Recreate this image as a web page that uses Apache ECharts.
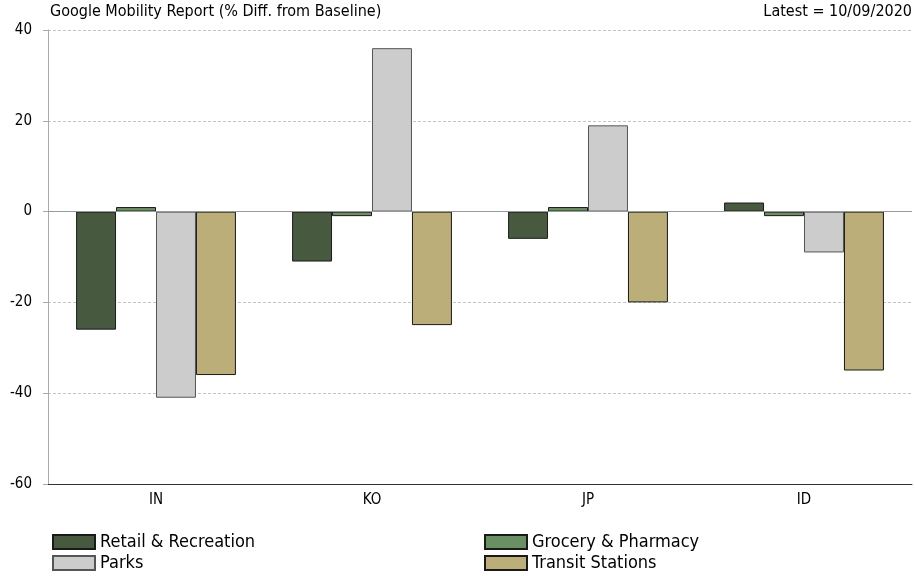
<!DOCTYPE html>
<html>
<head>
<meta charset="utf-8">
<script src="https://cdn.jsdelivr.net/npm/echarts@6/dist/echarts.min.js"></script>
<style>
  html, body { margin: 0; padding: 0; background: #fff; }
  #chart { width: 915px; height: 576px; }
</style>
</head>
<body>
<div id="chart"></div>
<script>
// 数据
const countries = ['IN', 'KO', 'JP', 'ID']
const retail = [-26, -11, -6, 2]
const grocery = [1, -1, 1, -1]
const parks = [-41, 36, 19, -9]
const transit = [-36, -25, -20, -35]

const FONT = '"DejaVu Sans Condensed", "DejaVu Sans", sans-serif'

const chart = echarts.init(document.getElementById('chart'))

const makeBar = (name, data, color, border) => ({
  name: name,
  type: 'bar',
  data: data,
  barGap: '0%',
  barCategoryGap: '26%',
  itemStyle: { color: color, borderColor: border, borderWidth: 1 }
})

const series = [
  makeBar('Retail & Recreation', retail, '#475a3f', '#1a1a1a'),
  makeBar('Grocery & Pharmacy', grocery, '#6a8f62', '#1a1a1a'),
  makeBar('Parks', parks, '#cccccc', '#555555'),
  makeBar('Transit Stations', transit, '#bbae78', '#1a1a1a')
]
// 零线
series[0].markLine = {
  silent: true,
  symbol: 'none',
  label: { show: false },
  lineStyle: { color: '#999', type: 'solid', width: 1 },
  data: [{ yAxis: 0 }]
}

// 图例：两列两行，每项单独定位
const legendItem = (name, left, top) => ({
  left: left, top: top, padding: 0,
  itemWidth: 42, itemHeight: 14,
  icon: 'rect',
  textStyle: { fontFamily: FONT, fontSize: 18, color: '#000' },
  data: [name]
})

chart.setOption({
  animation: false,
  textStyle: { fontFamily: FONT },
  graphic: [
    {
      type: 'text', left: 50, top: 4,
      style: { text: 'Google Mobility Report (% Diff. from Baseline)', font: '16px ' + FONT, fill: '#000' }
    },
    {
      type: 'text', right: 3, top: 4,
      style: { text: 'Latest = 10/09/2020', font: '16px ' + FONT, fill: '#000' }
    }
  ],
  legend: [
    legendItem('Retail & Recreation', 52, 533),
    legendItem('Parks', 52, 554),
    legendItem('Grocery & Pharmacy', 484, 533),
    legendItem('Transit Stations', 484, 554)
  ],
  grid: { left: 48, right: 3, top: 30, bottom: 92 },
  xAxis: {
    type: 'category',
    data: countries,
    axisLine: { onZero: false, lineStyle: { color: '#333' } },
    axisTick: { alignWithLabel: true, length: 4, lineStyle: { color: '#999' } },
    axisLabel: { color: '#000', fontSize: 15, fontFamily: FONT, margin: 9 }
  },
  yAxis: {
    type: 'value',
    min: -60, max: 40, interval: 20,
    axisLine: { show: true, lineStyle: { color: '#aaa' } },
    axisTick: { show: true, length: 5, lineStyle: { color: '#aaa' } },
    axisLabel: { color: '#000', fontSize: 15, fontFamily: FONT, margin: 16 },
    splitLine: { show: true, lineStyle: { color: '#c4c4c4', type: [3, 2] } }
  },
  series: series
})
</script>
</body>
</html>
